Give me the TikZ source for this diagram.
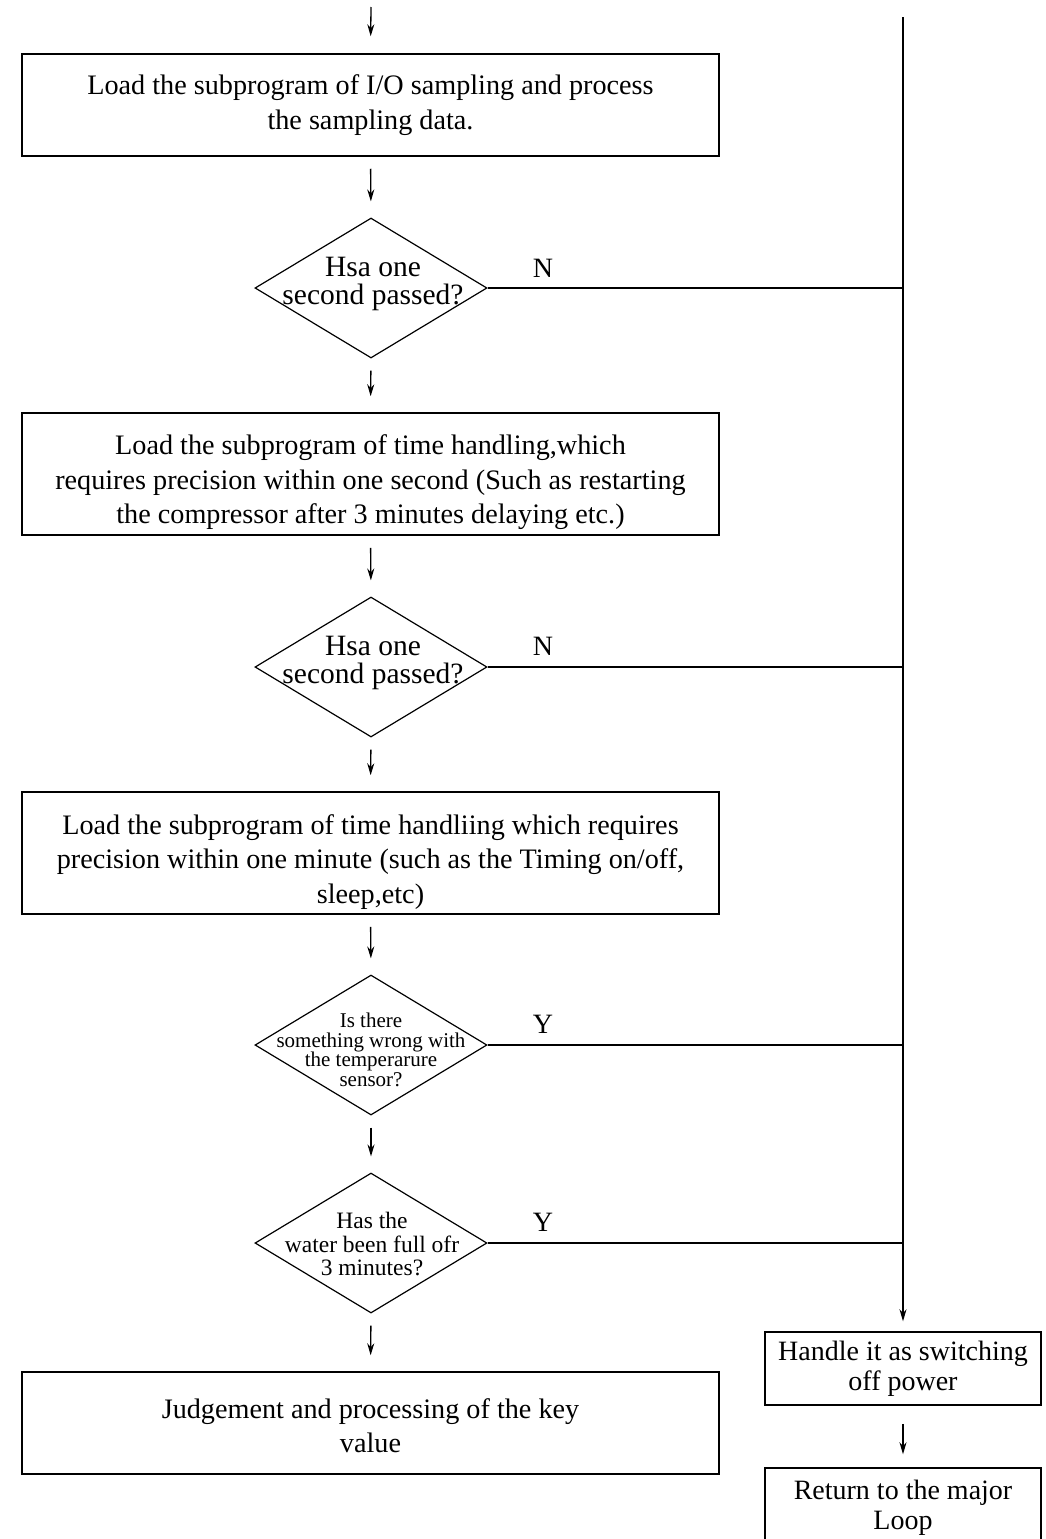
\documentclass[tikz,border=0pt]{standalone}
\usepackage{fontspec}
\setmainfont{Liberation Serif}
\usetikzlibrary{shapes.geometric,arrows.meta}
\begin{document}
\begin{tikzpicture}[x=1pt,y=-1pt,
 box/.style={draw,line width=1.5pt,rectangle,inner sep=0pt,align=center,font=\fontsize{28.2}{34.5}\selectfont},
 dia/.style={draw,line width=1.2pt,diamond,inner sep=0pt,minimum width=232pt,minimum height=140pt},
 dtext/.style={align=center,inner sep=0pt},
 arr/.style={line width=1.3pt,-{Stealth[length=12pt,width=7pt]}},
 flow/.style={arr,shorten <=12pt,shorten >=16pt},
 ln/.style={line width=1.5pt},
 lab/.style={inner sep=0pt,font=\fontsize{28}{30}\selectfont}]

\useasboundingbox (0,0) rectangle (1046,1539);
\clip (0,0) rectangle (1046,1539);

% left column
\node[box,minimum width=697pt,minimum height=102pt] (b1) at (370.5,105)
  {Load the subprogram of I/O sampling and process\\the sampling data.};
\node[dia] (d1) at (371,288) {};
\node[dtext,font=\fontsize{29.5}{27.5}\selectfont] (d1t) at (373,284) {Hsa one\\second passed?};
\node[box,minimum width=697pt,minimum height=122pt] (b2) at (370.5,474)
  {\rule{0pt}{37pt}Load the subprogram of time handling,which\\requires precision within one second (Such as restarting\\the compressor after 3 minutes delaying etc.)};
\node[dia] (d2) at (371,667) {};
\node[dtext,font=\fontsize{29.5}{27.5}\selectfont] (d2t) at (373,663) {Hsa one\\second passed?};
\node[box,minimum width=697pt,minimum height=122pt] (b3) at (370.5,853)
  {\rule{0pt}{37pt}Load the subprogram of time handliing which requires\\precision within one minute (such as the Timing on/off,\\sleep,etc)};
\node[dia] (d3) at (371,1045) {};
\node[dtext,font=\fontsize{21}{19.5}\selectfont] (d3t) at (371,1050) {Is there\\something wrong with\\the temperarure\\sensor?};
\node[dia] (d4) at (371,1243) {};
\node[dtext,font=\fontsize{23.5}{23.5}\selectfont] (d4t) at (372,1244) {Has the\\water been full ofr\\3 minutes?};
\node[box,minimum width=697pt,minimum height=102pt] (b4) at (370.5,1423)
  {\rule{0pt}{25pt}Judgement and processing of the key\\value};

% right column
\node[box,font=\fontsize{28}{29.5}\selectfont,minimum width=276pt,minimum height=73pt] (h) at (903,1368.5)
  {Handle it as switching\\off power};
\node[box,font=\fontsize{28}{30}\selectfont,minimum width=276pt,minimum height=80pt] (r) at (903,1508)
  {Return to the major\\Loop};

% flow arrows
\coordinate (start) at (371,7);
\draw[arr,shorten >=17pt] (start) -- (b1.north);
\draw[flow] (b1.south) -- (d1.north);
\draw[flow] (d1.south) -- (b2.north);
\draw[flow] (b2.south) -- (d2.north);
\draw[flow] (d2.south) -- (b3.north);
\draw[flow] (b3.south) -- (d3.north);
\draw[flow] (d3.south) -- (d4.north);
\draw[flow] (d4.south) -- (b4.north);

% trunk
\coordinate (top) at (903,17);
\draw[arr,shorten >=10pt] (top) -- (h.north);
\draw[arr,shorten <=18pt,shorten >=13pt] (h.south) -- (r.north);

% branches
\draw[ln] (d1.east) -- (d1.east -| top);
\draw[ln] (d2.east) -- (d2.east -| top);
\draw[ln] (d3.east) -- (d3.east -| top);
\draw[ln] (d4.east) -- (d4.east -| top);
\node[lab] (n1) at (543,268) {N};
\node[lab] (n2) at (543,646) {N};
\node[lab] (y1) at (543,1024) {Y};
\node[lab] (y2) at (543,1222) {Y};
\end{tikzpicture}
\end{document}
